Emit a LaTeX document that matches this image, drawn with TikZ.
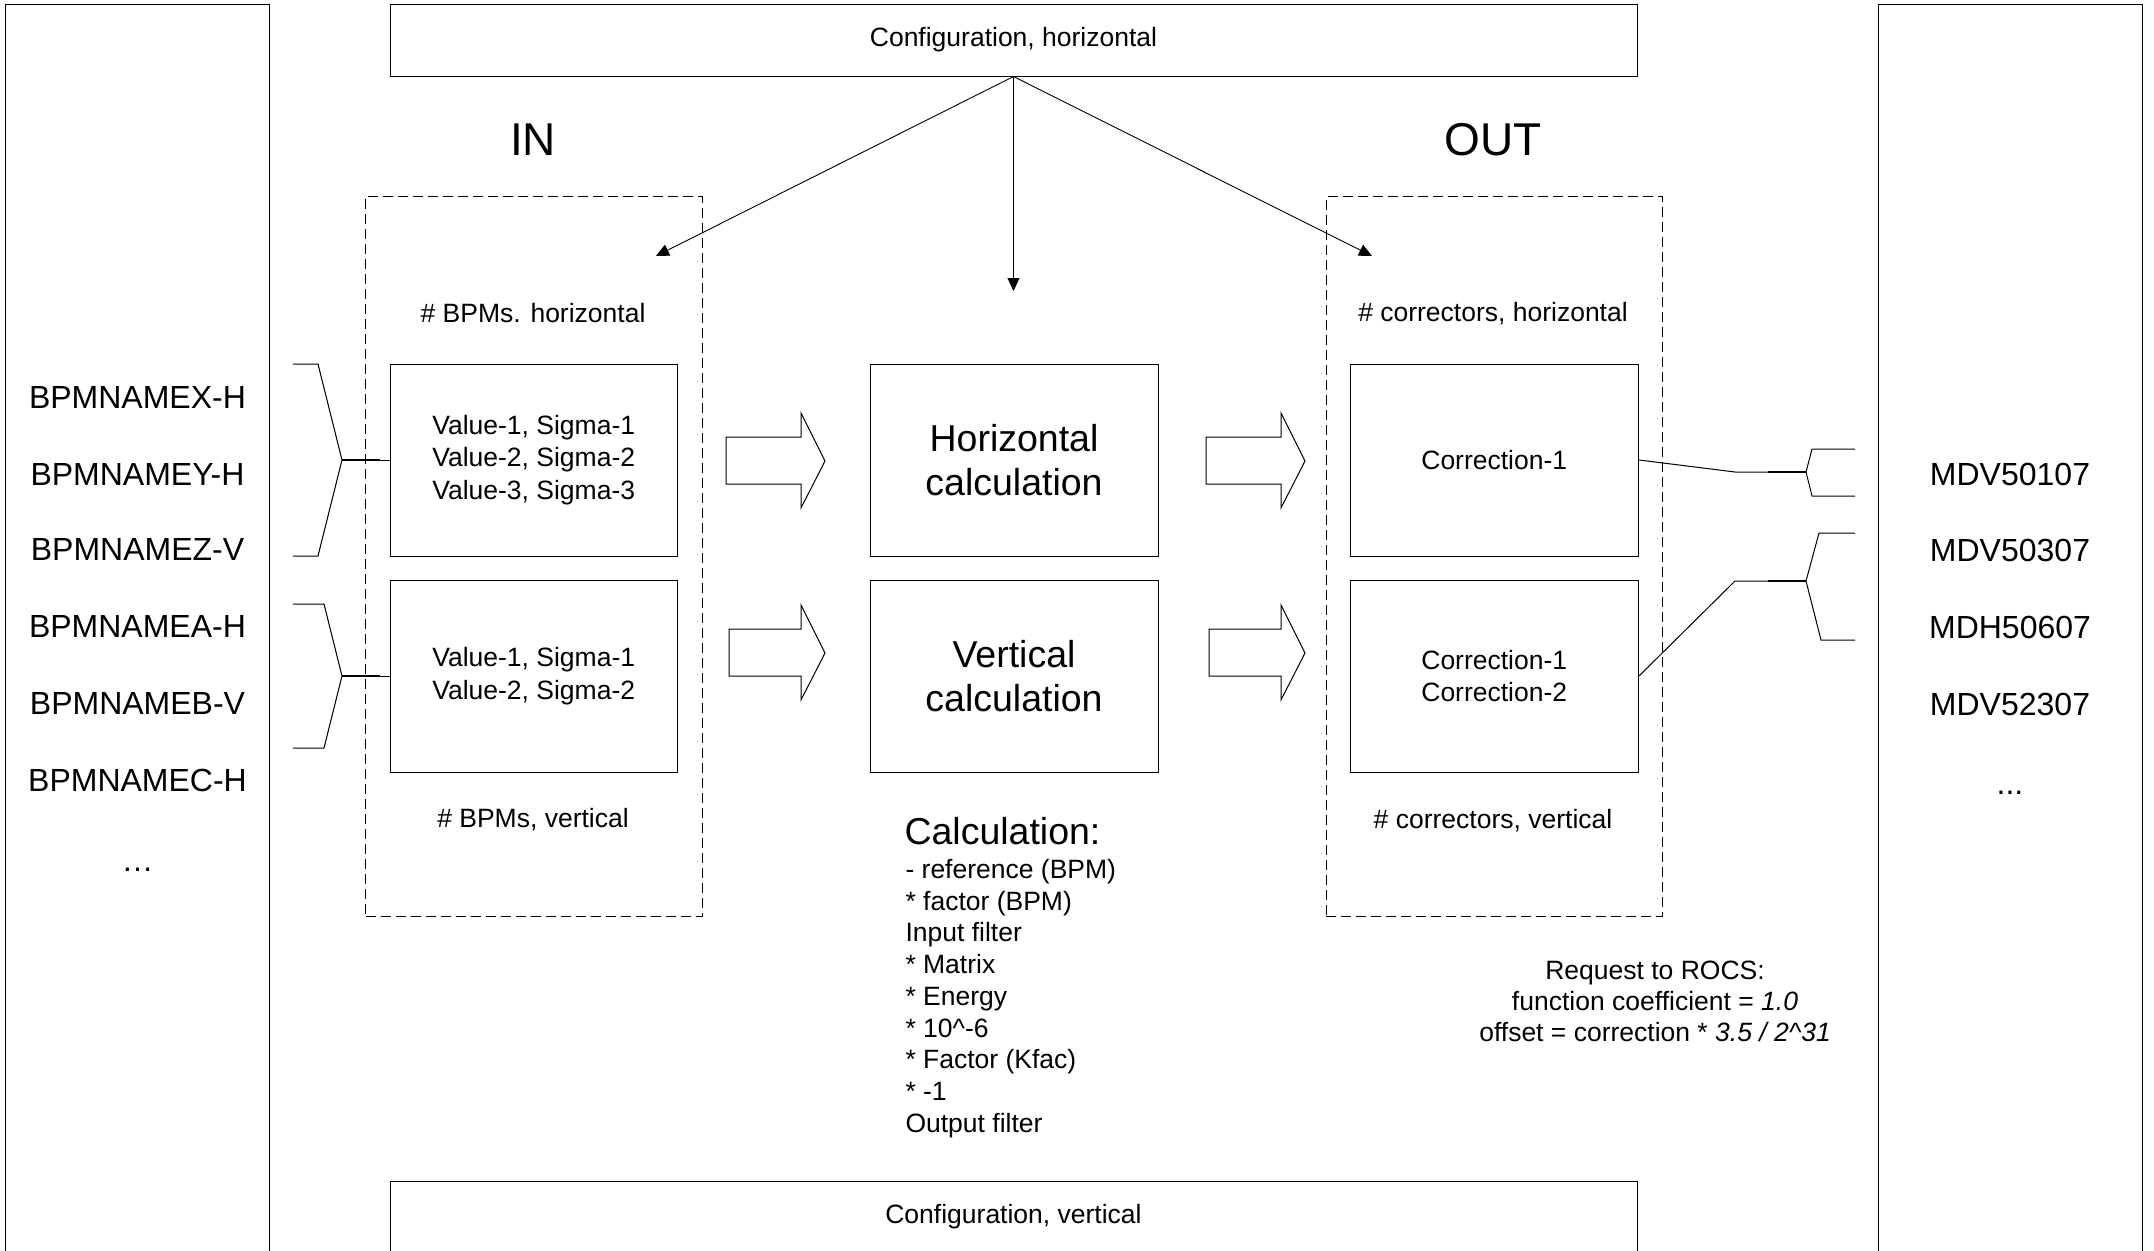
\documentclass[tikz,border=0pt]{standalone}
\usepackage{fontspec}
\setmainfont{Liberation Sans}
\usetikzlibrary{arrows.meta}
\newcommand\myNorm{\fontsize{26.5}{32.5}\selectfont}
\newcommand\myList{\fontsize{26.5}{31.75}\selectfont}
\newcommand\myLab{\fontsize{32}{38}\selectfont}
\newcommand\myCalc{\fontsize{37.5}{44}\selectfont}
\newcommand\myBig{\fontsize{46}{52}\selectfont}
\begin{document}
\begin{tikzpicture}[x=1pt,y=-1pt,line width=1pt,
  box/.style={draw,line width=1pt,inner sep=0pt,align=center,font=\myNorm},
  dbox/.style={draw,line width=1pt,inner sep=0pt,dash pattern=on 10pt off 5pt},
  txt/.style={inner sep=0pt,align=center,font=\myNorm},
  lab/.style={inner sep=0pt,font=\myLab},
  blockarrow/.style={draw,line width=1pt,fill=white,line join=miter},
  cfgarrow/.style={draw,line width=0.9pt,-{Triangle[length=13pt,width=12pt]}},
  bracelin/.style={draw,line width=1pt},
  thickseg/.style={draw,line width=2pt}]
\useasboundingbox (0,0) rectangle (2154,1250);
\clip (0,0) rectangle (2154,1250);

% side panels
\node[box,minimum width=264pt,minimum height=1258pt] (leftpanel) at (137.5,633) {};
\node[box,minimum width=264pt,minimum height=1258pt] (rightpanel) at (2010,633) {};

% configuration boxes
\node[box,minimum width=1247pt,minimum height=72pt] (cfgH) at (1013.5,40) {Configuration, horizontal};
\node[box,minimum width=1247pt,minimum height=72pt] (cfgV) at (1013.5,1217) {Configuration, vertical};

% IN / OUT
\node[txt,font=\myBig] (inlab) at (533,140) {IN};
\node[txt,font=\myBig] (outlab) at (1493,140) {OUT};

% dashed groups
\node[dbox,minimum width=336.5pt,minimum height=719.5pt] (inbox) at (533.75,556.25) {};
\node[dbox,minimum width=336pt,minimum height=719.5pt] (outbox) at (1494,556.25) {};

\node[txt] (bpmh) at (533,313) {\# BPMs. horizontal};
\node[txt] (bpmv) at (533,820) {\# BPMs, vertical};
\node[txt] (corh) at (1493,314) {\# correctors, horizontal};
\node[txt] (corv) at (1493,821) {\# correctors, vertical};

% inner boxes
\node[box,minimum width=287.5pt,minimum height=192pt] (val1) at (533.75,460)
  {Value-1, Sigma-1\\Value-2, Sigma-2\\Value-3, Sigma-3};
\node[box,minimum width=287.5pt,minimum height=192pt] (val2) at (533.75,676)
  {Value-1, Sigma-1\\Value-2, Sigma-2};
\node[box,font=\myCalc,minimum width=288pt,minimum height=192pt] (calcH) at (1014,460)
  {Horizontal\\calculation};
\node[box,font=\myCalc,minimum width=288pt,minimum height=192pt] (calcV) at (1014,676)
  {Vertical\\calculation};
\node[box,minimum width=288.5pt,minimum height=192pt] (corr1) at (1494.25,460)
  {Correction-1};
\node[box,minimum width=288.5pt,minimum height=192pt] (corr2) at (1494.25,676)
  {Correction-1\\Correction-2};

% block arrows
\draw[blockarrow] (726,437) -- (801,437) -- (801,413) -- (825,461) -- (801,508) -- (801,484) -- (726,484) -- cycle;
\draw[blockarrow] (729,629) -- (801,629) -- (801,605) -- (825,653) -- (801,700) -- (801,676) -- (729,676) -- cycle;
\draw[blockarrow] (1206,437) -- (1281,437) -- (1281,413) -- (1305,461) -- (1281,508) -- (1281,484) -- (1206,484) -- cycle;
\draw[blockarrow] (1209,629) -- (1281,629) -- (1281,605) -- (1305,653) -- (1281,700) -- (1281,676) -- (1209,676) -- cycle;

% configuration arrows
\coordinate (tipL) at (656,256);
\coordinate (tipM) at (1013.5,291);
\coordinate (tipR) at (1372,256);
\draw[cfgarrow] (cfgH.south) -- (tipL);
\draw[cfgarrow] (cfgH.south) -- (tipM);
\draw[cfgarrow] (cfgH.south) -- (tipR);

% calculation text
\node[inner sep=0pt,anchor=west,font=\myCalc] (calctitle) at (904,831) {Calculation:};
\node[inner sep=0pt,anchor=west,align=left,font=\myList] (calclist) at (905,998.5)
  {- reference (BPM)\\* factor (BPM)\\Input filter\\* Matrix\\* Energy\\* 10\textasciicircum-6\\* Factor (Kfac)\\* -1\\Output filter};

% request text
\node[inner sep=0pt,align=center,font=\fontsize{26.5}{31}\selectfont] (rocs) at (1655,1001)
  {Request to ROCS:\\function coefficient = \textit{1.0}\\offset = correction * \textit{3.5 / 2\textasciicircum31}};

% left labels
\node[lab] (b1) at (137.5,397) {BPMNAMEX-H};
\node[lab] (b2) at (137.5,474) {BPMNAMEY-H};
\node[lab] (b3) at (137.5,549) {BPMNAMEZ-V};
\node[lab] (b4) at (137.5,626) {BPMNAMEA-H};
\node[lab] (b5) at (137.5,703) {BPMNAMEB-V};
\node[lab] (b6) at (137.5,780) {BPMNAMEC-H};
\node[lab] (b7) at (137.5,870) {…};

% right labels
\node[lab] (m1) at (2010,474) {MDV50107};
\node[lab] (m2) at (2010,550) {MDV50307};
\node[lab] (m3) at (2010,627) {MDH50607};
\node[lab] (m4) at (2010,704) {MDV52307};
\node[lab] (m5) at (2010,793) {...};

% left braces
\coordinate (lb1) at (342,460);
\coordinate (lb2) at (342,676);
\draw[bracelin] (293,364) -- (318,364) -- (lb1) -- (318,556) -- (293,556);
\draw[bracelin] (lb1) -- (val1.west);
\draw[thickseg] (lb1) -- (380,460);
\draw[bracelin] (293,604) -- (324,604) -- (lb2) -- (324,748) -- (293,748);
\draw[bracelin] (lb2) -- (val2.west);
\draw[thickseg] (lb2) -- (380,676);

% right braces
\coordinate (rb1) at (1806,472);
\coordinate (rb2) at (1806,581);
\draw[bracelin] (corr1.east) -- (1735,472) -- (rb1);
\draw[thickseg] (1768,472) -- (rb1);
\draw[bracelin] (1855,449) -- (1812,449) -- (rb1) -- (1812,496) -- (1855,496);
\draw[bracelin] (corr2.east) -- (1735,581) -- (rb2);
\draw[thickseg] (1768,581) -- (rb2);
\draw[bracelin] (1855,533) -- (1819,533) -- (rb2) -- (1821,640) -- (1855,640);
\end{tikzpicture}
\end{document}
